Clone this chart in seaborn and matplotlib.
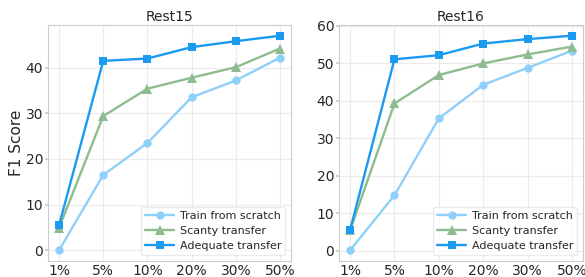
import numpy as np
import pandas as pd
import seaborn as sns
import matplotlib
matplotlib.use("Agg")
import matplotlib.pyplot as plt

categories = ["1%", "5%", "10%", "20%", "30%", "50%"]
series_names = ["Train from scratch", "Scanty transfer", "Adequate transfer"]

rest15_train = [0.0, 16.5, 23.5, 33.5, 37.2, 42.2]
rest15_scanty = [4.9, 29.4, 35.4, 37.8, 40.1, 44.2]
rest15_adequate = [5.5, 41.5, 42.0, 44.5, 45.8, 47.0]

rest16_train = [0.1, 14.8, 35.3, 44.3, 48.8, 53.4]
rest16_scanty = [5.4, 39.3, 46.9, 50.0, 52.4, 54.5]
rest16_adequate = [5.5, 51.1, 52.2, 55.3, 56.5, 57.4]

colors = ["#8fd0fa", "#8fbc8f", "#1a9bef"]
markers = ["o", "^", "s"]

sns.set_theme(style="whitegrid")
plt.rcParams['font.family'] = ['DejaVu Sans']

fig = plt.figure(figsize=(5.85, 2.77), dpi=100)
ax1 = fig.add_axes([48/585, 16/277, 243/585, 236/277])
ax2 = fig.add_axes([339/585, 16/277, 244/585, 236/277])

def draw(ax, vals, title):
    rows = []
    for name, v in zip(series_names, vals):
        for c, y in zip(categories, v):
            rows.append({"x": categories.index(c), "y": y, "series": name})
    df = pd.DataFrame(rows)
    for i, name in enumerate(series_names):
        d = df[df.series == name]
        sns.lineplot(data=d, x="x", y="y", ax=ax, color=colors[i], marker=markers[i],
                     markersize=6 if markers[i] != "^" else 6.5, linewidth=1.7,
                     markeredgewidth=0, label=name)
    ax.set_xticks(range(len(categories)))
    ax.set_xticklabels(categories)
    ax.set_xlabel("")
    ax.set_ylabel("")
    ax.set_title(title, fontsize=10, pad=3, color="#262626")
    ax.tick_params(labelsize=10, colors="#262626")
    ax.tick_params(axis="y", left=True, length=2.5, pad=1, color="#cccccc")
    ax.tick_params(axis="x", bottom=False, length=0, pad=2)
    ax.grid(True, color="#ebebeb", linewidth=0.8)
    for s in ax.spines.values():
        s.set_color("#cccccc")
        s.set_linewidth(0.8)
    ax.margins(x=0.05)
    leg = ax.legend(loc="lower right", fontsize=8, frameon=True, handlelength=2.6,
                    borderpad=0.4, labelspacing=0.45, handletextpad=0.5,
                    borderaxespad=0.5)
    leg.get_frame().set_edgecolor("#e6e6e6")

draw(ax1, [rest15_train, rest15_scanty, rest15_adequate], "Rest15")
draw(ax2, [rest16_train, rest16_scanty, rest16_adequate], "Rest16")
ax1.set_yticks([0, 10, 20, 30, 40])
ax2.set_yticks([0, 10, 20, 30, 40, 50, 60])
ax1.set_ylabel("F1 Score", fontsize=11, color="#262626", labelpad=1)

fig.savefig("out.png", dpi=100)
